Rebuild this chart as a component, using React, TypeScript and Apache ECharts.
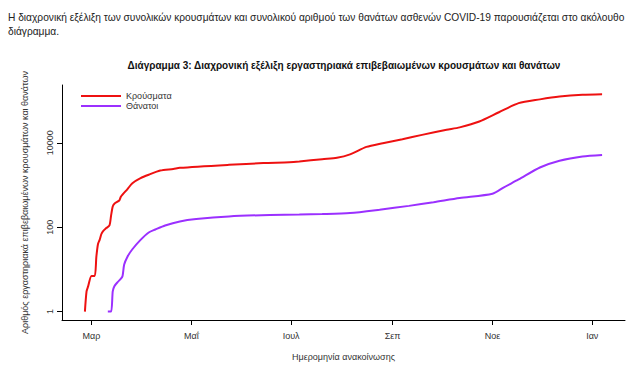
import React, { useEffect, useRef } from "react";
import * as echarts from "echarts";

const START = Date.UTC(2020, 2, 1);
const dayOf = (s: string) => {
  const [y, m, d] = s.split("-").map(Number);
  return (Date.UTC(y, m - 1, d) - START) / 86400000;
};

const casesDates = [
  "2020-02-26", "2020-02-27", "2020-02-28", "2020-03-01", "2020-03-03", "2020-03-04",
  "2020-03-05", "2020-03-06", "2020-03-07", "2020-03-08", "2020-03-10", "2020-03-12",
  "2020-03-13", "2020-03-14", "2020-03-15", "2020-03-18", "2020-03-19", "2020-03-23",
  "2020-03-26", "2020-03-31", "2020-04-05", "2020-04-12", "2020-04-20", "2020-04-24",
  "2020-05-24", "2020-06-14", "2020-06-30", "2020-07-06", "2020-07-20", "2020-07-29",
  "2020-08-06", "2020-08-16", "2020-08-26", "2020-09-07", "2020-09-19", "2020-10-04",
  "2020-10-12", "2020-10-24", "2020-11-05", "2020-11-17", "2020-11-30", "2020-12-12",
  "2020-12-26", "2021-01-07",
];
const casesValues = [
  1, 3, 4, 7, 7, 20,
  40, 50, 68, 80, 95, 110,
  190, 310, 360, 430, 530, 800,
  1100, 1450, 1750, 2200, 2400, 2550,
  3000, 3300, 3450, 3600, 4100, 4400,
  5300, 8000, 9800, 12200, 15400, 20300,
  23200, 32000, 53000, 87000, 107000, 125000,
  138000, 142000,
];

const deathsDates = [
  "2020-03-11", "2020-03-13", "2020-03-14", "2020-03-15", "2020-03-17", "2020-03-19",
  "2020-03-20", "2020-03-21", "2020-03-23", "2020-03-26", "2020-03-31", "2020-04-05",
  "2020-04-09", "2020-04-15", "2020-04-24", "2020-05-04", "2020-05-24", "2020-06-18",
  "2020-07-06", "2020-07-20", "2020-08-06", "2020-08-24", "2020-09-11", "2020-09-26",
  "2020-10-12", "2020-11-01", "2020-11-08", "2020-11-17", "2020-11-30", "2020-12-12",
  "2020-12-26", "2021-01-07",
];
const deathsValues = [
  1, 1, 3, 4, 5, 6,
  7, 13, 20, 30, 50, 75,
  88, 110, 137, 156, 180, 195,
  200, 205, 217, 260, 320, 390,
  490, 620, 880, 1350, 2600, 3750,
  4750, 5150,
];

const monthTicks = [0, 61, 122, 184, 245, 306];
const monthLabels = ["Μαρ", "Μαΐ", "Ιουλ", "Σεπ", "Νοε", "Ιαν"];
const yTicks = [0, 2, 4];
const yTickLabels = ["1", "100", "10000"];

const seriesNames = ["Κρούσματα", "Θάνατοι"];
const titleText = "Διάγραμμα 3: Διαχρονική εξέλιξη εργαστηριακά επιβεβαιωμένων κρουσμάτων και θανάτων";
const paraLine1 =
  "Η διαχρονική εξέλιξη των συνολικών κρουσμάτων και συνολικού αριθμού των θανάτων ασθενών COVID-19 παρουσιάζεται στο ακόλουθο";
const paraLine2 = "διάγραμμα.";
const xName = "Ημερομηνία ανακοίνωσης";
const yName = "Αριθμός εργαστηριακά επιβεβαιωμένων κρουσμάτων και θανάτων";

export default function App() {
  const ref = useRef<HTMLDivElement>(null);
  useEffect(() => {
    if (!ref.current) return;
    const chart = echarts.init(ref.current, undefined, { renderer: "svg" });
    const toPts = (dates: string[], vals: number[]) =>
      dates.map((d, i) => [dayOf(d), Math.log10(vals[i])]);
    const axisFont = "Liberation Sans, Arial, sans-serif";
    chart.setOption({
      animation: false,
      backgroundColor: "#ffffff",
      grid: { left: 62, right: 15, top: 85, bottom: 54, containLabel: false },
      legend: {
        orient: "vertical",
        left: 81,
        top: 91,
        padding: 0,
        itemGap: 0,
        itemWidth: 40,
        itemHeight: 2,
        icon: "rect",
        data: seriesNames,
        textStyle: { fontSize: 9, color: "#333", lineHeight: 10, fontFamily: axisFont },
      },
      xAxis: {
        type: "value",
        min: -18,
        max: 326,
        name: xName,
        nameLocation: "middle",
        nameGap: 32,
        nameTextStyle: { fontSize: 9, color: "#333", fontFamily: axisFont },
        splitLine: { show: false },
        axisLine: { show: true, onZero: false, lineStyle: { color: "#000", width: 1 } },
        axisTick: { show: true, length: 5, customValues: monthTicks, lineStyle: { color: "#000" } },
        axisLabel: {
          customValues: monthTicks,
          fontSize: 9,
          color: "#333",
          margin: 11,
          fontFamily: axisFont,
          formatter: (v: number) => monthLabels[monthTicks.indexOf(v)] ?? "",
        },
      },
      yAxis: {
        type: "value",
        min: -0.2,
        max: 5.37,
        name: yName,
        nameLocation: "middle",
        nameRotate: 90,
        nameGap: 33,
        nameTextStyle: { fontSize: 9, color: "#333", fontFamily: axisFont },
        splitLine: { show: false },
        axisLine: { show: true, onZero: false, lineStyle: { color: "#000", width: 1 } },
        axisTick: { show: true, length: 5, customValues: yTicks, lineStyle: { color: "#000" } },
        axisLabel: {
          customValues: yTicks,
          rotate: 90,
          fontSize: 9,
          color: "#333",
          margin: 8,
          align: "center",
          verticalAlign: "bottom",
          fontFamily: axisFont,
          formatter: (v: number) => yTickLabels[yTicks.indexOf(v)] ?? "",
        },
      },
      graphic: [
        {
          type: "text",
          left: 8,
          top: 12,
          style: { text: paraLine1, fontSize: 10.2, fill: "#222", fontFamily: axisFont },
        },
        {
          type: "text",
          left: 8,
          top: 26,
          style: { text: paraLine2, fontSize: 10.2, fill: "#222", fontFamily: axisFont },
        },
        {
          type: "text",
          x: 344,
          y: 65,
          style: {
            text: titleText,
            fontSize: 10,
            fontWeight: "bold",
            fill: "#111",
            fontFamily: axisFont,
            align: "center",
            verticalAlign: "middle",
          },
        },
      ],
      series: [
        {
          name: seriesNames[0],
          type: "line",
          data: toPts(casesDates, casesValues),
          showSymbol: false,
          smooth: 0.25,
          lineStyle: { color: "#ee1111", width: 2 },
          itemStyle: { color: "#ee1111" },
        },
        {
          name: seriesNames[1],
          type: "line",
          data: toPts(deathsDates, deathsValues),
          showSymbol: false,
          smooth: 0.25,
          lineStyle: { color: "#9b30ff", width: 2 },
          itemStyle: { color: "#9b30ff" },
        },
      ],
    });
    return () => chart.dispose();
  }, []);
  return (
    <div
      ref={ref}
      style={{ position: "fixed", left: 0, top: 0, width: 640, height: 374, background: "#fff" }}
    />
  );
}
